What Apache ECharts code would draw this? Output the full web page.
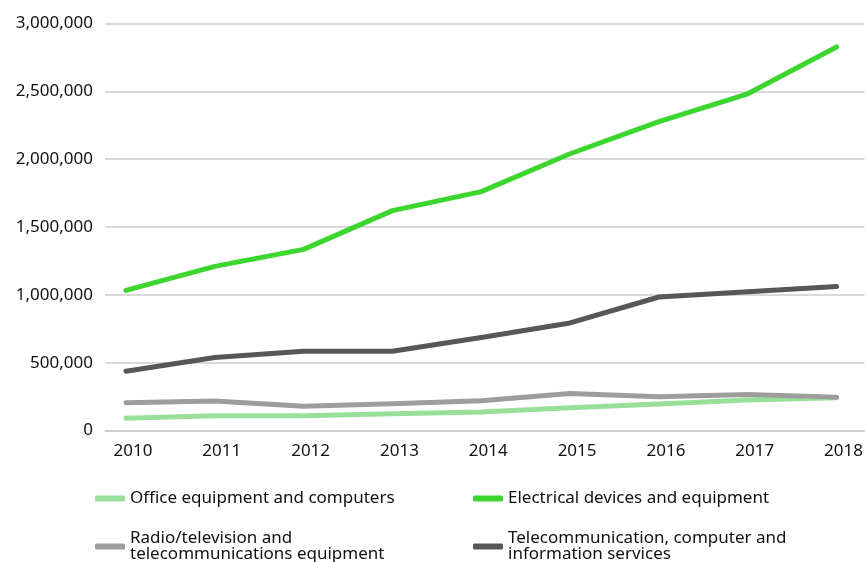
<!DOCTYPE html>
<html>
<head>
<meta charset="utf-8">
<script src="https://cdn.jsdelivr.net/npm/echarts@6/dist/echarts.min.js"></script>
<style>
  html, body { margin: 0; padding: 0; background: #fff; }
  #chart { width: 866px; height: 562px; }
</style>
</head>
<body>
<div id="chart"></div>
<script>
// years on the x axis
const years = [2010, 2011, 2012, 2013, 2014, 2015, 2016, 2017, 2018]
// y axis ticks
const yTicks = [0, 500000, 1000000, 1500000, 2000000, 2500000, 3000000]

const seriesNames = [
    'Office equipment and computers',
    'Electrical devices and equipment',
    'Radio/television and telecommunications equipment',
    'Telecommunication, computer and information services'
]
// legend text with line breaks
const legendLabels = [
    'Office equipment and computers',
    'Electrical devices and equipment',
    'Radio/television and\ntelecommunications equipment',
    'Telecommunication, computer and\ninformation services'
]

const office = [90000, 108000, 108000, 123000, 136000, 168000, 195000, 224000, 241000]
const electrical = [1033000, 1210000, 1335000, 1621000, 1761000, 2040000, 2276000, 2482000, 2827000]
const radio = [205000, 217000, 178000, 197000, 219000, 273000, 248000, 266000, 246000]
const telecom = [437000, 538000, 584000, 584000, 685000, 793000, 984000, 1023000, 1062000]

const colors = ['#98e09a', '#3dd62f', '#9d9d9d', '#575757']

const font = '"Noto Sans", "Open Sans", sans-serif'

function pairs (vals) {
    return years.map((y, i) => [y, vals[i]])
}

const chart = echarts.init(document.getElementById('chart'), null, { renderer: 'canvas' })

const allData = [office, electrical, radio, telecom]
const series = seriesNames.map((name, i) => ({
    name,
    type: 'line',
    data: pairs(allData[i]),
    symbol: 'none',
    color: colors[i],
    lineStyle: { width: 5, color: colors[i], cap: 'round', join: 'round' },
    z: 2 + i
}))

// one legend per entry, laid out as a 2 x 2 block
const legendPos = [
    { left: 90, top: 485 },
    { left: 468, top: 485 },
    { left: 90, top: 525 },
    { left: 468, top: 525 }
]
const legends = seriesNames.map((name, i) => ({
    data: [name],
    left: legendPos[i].left,
    top: legendPos[i].top,
    itemWidth: 30,
    itemHeight: 6,
    icon: 'roundRect',
    formatter: () => legendLabels[i],
    textStyle: { fontSize: 17, lineHeight: 16, color: '#111', fontFamily: font }
}))

const option = {
    animation: false,
    textStyle: { fontFamily: font },
    grid: { left: 105, right: 0, top: 23.5, bottom: 131.5 },
    xAxis: {
        type: 'value',
        // 2010 sits a little in from the left edge of the gridlines
        min: 2010 - 21 / 89,
        max: 2018 + 28 / 89,
        axisLine: { show: true, lineStyle: { color: '#cccccc', width: 1.5 } },
        axisTick: { show: false },
        splitLine: { show: false },
        axisLabel: {
            customValues: years,
            color: '#111',
            fontSize: 17,
            fontFamily: font,
            margin: 12,
            padding: [0, 0, 0, 14],
            formatter: v => String(v)
        }
    },
    yAxis: {
        type: 'value',
        min: 0,
        max: 3000000,
        axisLine: { show: false },
        axisTick: { show: false },
        splitLine: { show: true, lineStyle: { color: '#cccccc', width: 1.5 } },
        axisLabel: {
            customValues: yTicks,
            color: '#111',
            fontSize: 17,
            fontFamily: font,
            margin: 12,
            formatter: v => v.toLocaleString('en-US')
        }
    },
    legend: legends,
    series
}
chart.setOption(option)
</script>
</body>
</html>
